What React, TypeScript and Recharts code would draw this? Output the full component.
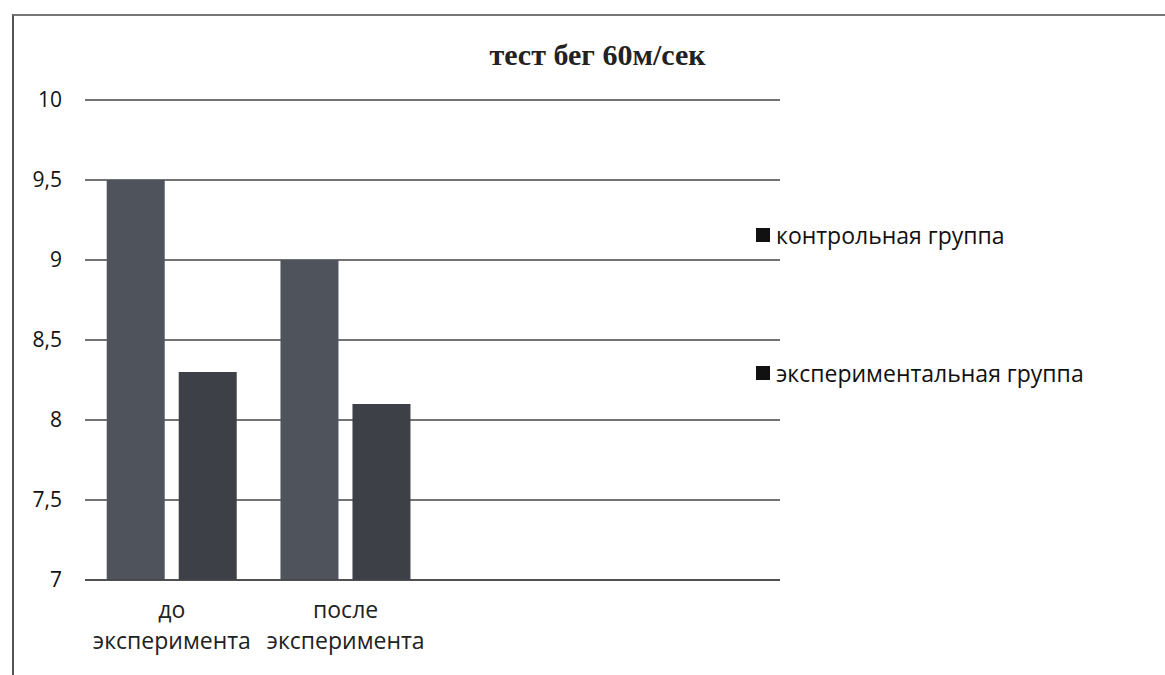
import { BarChart, Bar, XAxis, YAxis, CartesianGrid } from 'recharts';

const categories = ['до\nэксперимента', 'после\nэксперимента', '', ''];
const controlGroup = [9.5, 9.0, null, null];
const experimentalGroup = [8.3, 8.1, null, null];
const yTicks = [7, 7.5, 8, 8.5, 9, 9.5, 10];

const seriesNames = ['контрольная группа', 'экспериментальная группа'];

const data = categories.map((c, i) => ({
  name: c,
  control: controlGroup[i],
  experimental: experimentalGroup[i],
}));

const FONT = '"Open Sans", sans-serif';

const CategoryTick = (props: any) => {
  const { x, y, payload } = props;
  const lines = String(payload.value).split('\n');
  return (
    <text x={x} y={y} textAnchor="middle" fontFamily={FONT} fontSize={23} fill="#222">
      {lines.map((l, i) => (
        <tspan key={i} x={x} dy={i === 0 ? 30 : 31}>
          {l}
        </tspan>
      ))}
    </text>
  );
};

export default function App() {
  return (
    <div style={{ position: 'absolute', left: 0, top: 0, width: 1165, height: 675, background: '#fff' }}>
      <div
        style={{
          position: 'absolute',
          left: 12,
          top: 14,
          width: 1165,
          height: 700,
          borderLeft: '2px solid #555',
          borderTop: '2px solid #777',
        }}
      />
      <div
        style={{
          position: 'absolute',
          left: 0,
          top: 38,
          width: 1195,
          textAlign: 'center',
          fontFamily: '"Liberation Serif", serif',
          fontWeight: 'bold',
          fontSize: 30,
          color: '#222',
        }}
      >
        тест бег 60м/сек
      </div>
      <div style={{ position: 'absolute', left: 756, top: 220, fontFamily: FONT, fontSize: 23, color: '#111' }}>
        {seriesNames.map((n, i) => (
          <div key={n} style={{ display: 'flex', alignItems: 'center', height: 30, marginBottom: i === 0 ? 108 : 0 }}>
            <span style={{ width: 14, height: 14, background: '#111', display: 'inline-block', marginRight: 6 }} />
            {n}
          </div>
        ))}
      </div>
      <BarChart
        style={{ position: 'absolute', left: 0, top: 0 }}
        width={1165}
        height={675}
        data={data}
        margin={{ top: 100, right: 385, bottom: 65, left: 0 }}
        barCategoryGap="12.5%"
        barGap={14}
      >
        <CartesianGrid vertical={false} stroke="#444" strokeWidth={1.5} />
        <XAxis
          dataKey="name"
          axisLine={{ stroke: '#444', strokeWidth: 1.5 }}
          tickLine={false}
          tick={<CategoryTick />}
          interval={0}
        />
        <YAxis
          width={85}
          domain={[7, 10]}
          ticks={yTicks}
          axisLine={false}
          tickLine={false}
          tickMargin={17}
          tickFormatter={(v: number) => String(v).replace('.', ',')}
          tick={{ fontFamily: FONT, fontSize: 21, fill: '#111' }}
          allowDataOverflow
        />
        <Bar dataKey="control" name={seriesNames[0]} fill="#4f535b" isAnimationActive={false} />
        <Bar dataKey="experimental" name={seriesNames[1]} fill="#3d4047" isAnimationActive={false} />
      </BarChart>
    </div>
  );
}
